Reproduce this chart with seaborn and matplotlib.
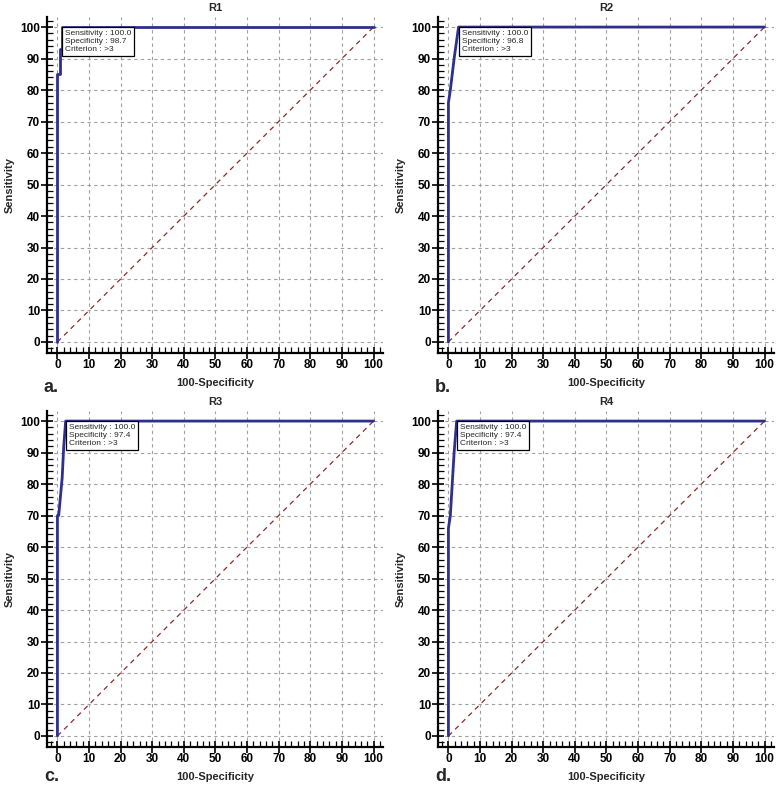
import matplotlib
matplotlib.use("Agg")
import matplotlib.pyplot as plt
from matplotlib.ticker import MultipleLocator
import seaborn as sns

# ROC curve points (100-Specificity, Sensitivity)
r1_fpr = [0, 0, 0.7, 0.7, 1.3, 1.3, 100]
r1_tpr = [0, 85, 85, 93, 93, 100, 100]

r2_fpr = [0, 0, 0.6, 1.8, 3.2, 100]
r2_tpr = [0, 76, 80, 90, 100, 100]

r3_fpr = [0, 0, 0.4, 1.5, 2.0, 2.6, 100]
r3_tpr = [0, 70, 70, 82, 92, 100, 100]

r4_fpr = [0, 0, 0.6, 1.2, 1.8, 2.6, 100]
r4_tpr = [0, 66, 70, 80, 90, 100, 100]

titles = ["R1", "R2", "R3", "R4"]
letters = ["a.", "b.", "c.", "d."]
sensitivity = ["100.0", "100.0", "100.0", "100.0"]
specificity = ["98.7", "96.8", "97.4", "97.4"]
criterion = [">3", ">3", ">3", ">3"]
ticks = list(range(0, 101, 10))

curves = [(r1_fpr, r1_tpr), (r2_fpr, r2_tpr), (r3_fpr, r3_tpr), (r4_fpr, r4_tpr)]

sns.set_style("white")
plt.rcParams["font.family"] = ["Liberation Sans", "DejaVu Sans"]
plt.rcParams.update({
    "xtick.direction": "in",
    "ytick.direction": "in",
    "xtick.bottom": True,
    "ytick.left": True,
    "xtick.minor.visible": True,
    "ytick.minor.visible": True,
    "xtick.minor.size": 4,
    "ytick.minor.size": 4,
    "xtick.minor.width": 0.9,
    "ytick.minor.width": 0.9,
    "xtick.color": "black",
    "ytick.color": "black",
})

fig = plt.figure(figsize=(7.78, 7.86), dpi=100)

W, H = 778, 786
positions = [(47, 353), (438, 353), (47, 747), (438, 747)]
letter_baseline = [392, 392, 781, 781]
size = 336

for i, (fpr, tpr) in enumerate(curves):
    left, bottom = positions[i]
    ax = fig.add_axes([left / W, (H - bottom) / H, size / W, size / H])

    # reference diagonal
    sns.lineplot(x=[0, 100], y=[0, 100], ax=ax, color="#8B2A2A", lw=0.9,
                 linestyle=(0, (4, 3.5)), zorder=2)
    # ROC curve
    sns.lineplot(x=fpr, y=tpr, ax=ax, sort=False, estimator=None,
                 color="#2E2F8E", lw=2.0, zorder=3)

    ax.set_xlim(-3.3, 103)
    ax.set_ylim(-3.5, 103.2)
    ax.set_xticks(ticks)
    ax.set_yticks(ticks)
    ax.xaxis.set_minor_locator(MultipleLocator(2))
    ax.yaxis.set_minor_locator(MultipleLocator(2))
    ax.grid(True, which="major", color="#A0A0A0", linestyle=(0, (3, 3)), lw=0.8)
    ax.grid(False, which="minor")
    ax.set_axisbelow(True)

    for side in ["top", "right"]:
        ax.spines[side].set_visible(False)
    for side in ["left", "bottom"]:
        ax.spines[side].set_linewidth(1.6)
        ax.spines[side].set_color("black")

    ax.tick_params(which="major", direction="inout", length=8, width=1.2,
                   labelsize=8.5, pad=0)
    ax.tick_params(which="minor", direction="in", length=4, width=0.9)
    ax.tick_params(axis="y", which="major", pad=1)
    for lab in ax.get_xticklabels() + ax.get_yticklabels():
        lab.set_fontweight("bold")

    ax.set_xlabel("100-Specificity", fontsize=8, fontweight="bold", labelpad=5)
    ax.set_ylabel("Sensitivity", fontsize=8, fontweight="bold", labelpad=4)
    ax.set_title(titles[i], fontsize=8, fontweight="bold", pad=4)

    # criterion box
    box_text = (f"Sensitivity : {sensitivity[i]}\n"
                f"Specificity : {specificity[i]}\n"
                f"Criterion : {criterion[i]}")
    ax.text(fpr[-2] + 1.0, 99.0, box_text, fontsize=6.0, va="top", ha="left",
            family=["Liberation Sans Narrow", "Liberation Sans"],
            linespacing=1.2, zorder=5,
            bbox=dict(boxstyle="square,pad=0.35", fc="white", ec="black", lw=0.9))

    # panel letter
    fig.text((left - 3) / W, (H - letter_baseline[i]) / H, letters[i],
             fontsize=13, fontweight="bold", ha="left", va="baseline")

fig.savefig("out.png", dpi=100)
